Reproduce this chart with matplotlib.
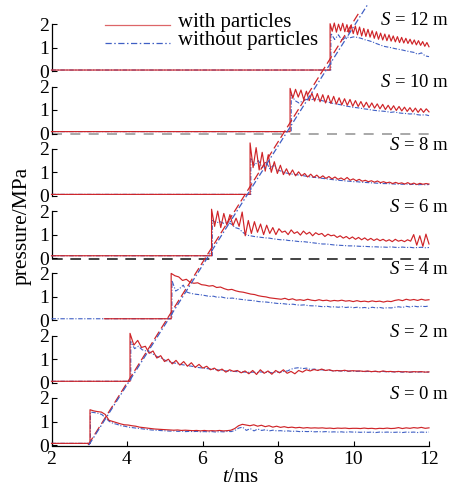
import numpy as np
import matplotlib
matplotlib.use("Agg")
import matplotlib.pyplot as plt
from matplotlib.lines import Line2D
from matplotlib.transforms import blended_transform_factory

plt.rcParams['font.family'] = ['Liberation Serif', 'DejaVu Serif']
plt.rcParams['mathtext.fontset'] = 'custom'
plt.rcParams['mathtext.rm'] = 'Liberation Serif'
plt.rcParams['mathtext.it'] = 'Liberation Serif:italic'

# ---------------- data ----------------
distances = ["12", "10", "8", "6", "4", "2", "0"]          # top -> bottom
jump_red = [9.38, 8.32, 7.26, 6.24, 5.17, 4.08, 3.02]
jump_blue = [9.40, 8.35, 7.28, 6.26, 5.19, 4.10, 3.03]
pre_start_red = [2.0, 2.0, 2.0, 2.0, 3.4, 2.0, 2.0]
pre_start_blue = [2.0, 2.0, 2.0, 2.0, 2.0, 2.0, 2.0]
pre_level = [0.05, 0.08, 0.06, 0.1, 0.07, 0.06, 0.07]

red12 = [2.02,1.70,2.05,1.66,2.00,1.72,2.04,1.68,1.98,1.62,1.95,1.60,1.92,1.55,1.88,1.50,
         1.82,1.48,1.78,1.45,1.72,1.40,1.68,1.36,1.62,1.33,1.58,1.30,1.55,1.28,1.50,1.25,
         1.47,1.22,1.44,1.20,1.40,1.18,1.36,1.15,1.33,1.12,1.30,1.10,1.26,1.06,1.22,1.04]
blue12 = [1.62,1.35,1.55,1.30,1.48,1.42,1.46,1.44,1.40,1.34,1.30,1.25,1.18,1.12,1.06,1.03,
          1.00,0.96,0.93,0.90,0.86,0.83,0.80,0.72,0.78,0.65,0.62]

red10 = [1.92,1.50,1.88,1.55,1.85,1.45,1.80,1.40,1.72,1.38,1.70,1.35,1.65,1.30,1.62,1.28,
         1.58,1.25,1.52,1.22,1.48,1.20,1.45,1.16,1.40,1.15,1.36,1.12,1.33,1.10,1.30,1.08,
         1.26,1.05,1.24,1.02,1.20,1.00,1.18,0.98,1.15,0.96,1.12,0.94,1.10,0.92,1.08,0.90,
         1.06,0.90,1.05,0.92]
blue10 = [1.66,1.40,1.30,1.38,1.45,1.42,1.48,1.44,1.40,1.36,1.32,1.28,1.25,1.22,1.18,1.15,
          1.12,1.10,1.08,1.05,1.03,1.00,0.98,0.96,0.95,0.93,0.90,0.92,0.88,0.86,0.85,0.83,
          0.84,0.80,0.78,0.80,0.76]

red8 = [2.25,1.20,2.05,1.10,1.85,1.05,1.75,1.00,
        1.45,0.95,1.30,0.90,1.15,0.88,1.10,0.85,1.02,0.85,
        0.95,0.80,0.92,0.78,0.88,0.76,0.85,0.74,0.82,0.72,
        0.80,0.70,0.76,0.68,0.78,0.66,0.72,0.64,0.70,0.62,
        0.66,0.60,0.64,0.58,0.63,0.56,0.60,0.55,0.58,0.52,
        0.57,0.52,0.55,0.50,0.56,0.49,0.54,0.48,0.53,0.49,0.52,0.50]
blue8 = [1.62,1.30,1.50,1.20,1.45,1.15,1.30,1.10,1.05,0.98,0.95,0.92,0.90,0.88,0.85,0.82,
         0.80,0.78,0.76,0.74,0.72,0.70,0.68,0.66,0.65,0.63,0.62,0.60,0.60,0.58,0.57,0.56,
         0.55,0.54,0.53,0.52,0.52,0.51,0.50,0.50,0.49,0.50,0.48,0.49,0.47,0.48,0.47,0.48]

red6 = [2.08,1.35,2.00,1.30,1.90,
        1.40,1.85,1.38,1.70,1.35,
        1.96,0.95,1.60,1.05,1.55,
        1.10,1.45,1.00,1.40,1.05,1.30,1.00,1.25,1.10,
        1.15,1.00,1.20,1.05,1.12,0.98,1.15,1.02,1.10,0.95,1.08,1.00,1.05,0.92,1.02,0.95,
        0.98,0.88,0.95,0.85,0.92,0.82,0.90,0.80,0.88,0.78,0.86,0.76,0.84,0.75,0.82,0.74,
        0.80,0.72,0.78,0.70,0.80,0.72,0.76,0.70,0.78,0.72,
        1.00,0.55,0.95,0.50,1.02,0.60]
blue6 = [1.60,1.50,1.55,1.48,1.52,1.45,1.30,1.25,1.10,0.98,0.95,0.92,0.90,0.88,0.86,0.85,
         0.82,0.80,0.78,0.78,0.75,0.74,0.72,0.70,0.70,0.68,0.66,0.64,0.62,0.60,0.60,0.58,
         0.56,0.55,0.54,0.53,0.52,0.52,0.51,0.50,0.50,0.49,0.48,0.48,0.47,0.47,0.46,0.48,
         0.46,0.45,0.47,0.45,0.46,0.44,0.45,0.46,0.44,0.45]

red4 = [2.00,1.90,1.85,1.70,1.75,1.62,1.58,1.60,1.52,
        1.50,1.46,1.48,1.40,1.42,1.35,1.30,1.32,1.26,1.22,
        1.20,1.16,1.12,1.10,1.05,1.02,1.00,0.96,0.94,0.92,
        0.90,0.94,0.88,0.92,0.86,0.88,0.85,0.90,0.86,0.84,
        0.88,0.84,0.86,0.82,0.85,0.83,0.86,0.82,0.84,0.80,
        0.84,0.80,0.82,0.79,0.83,0.80,0.82,0.78,0.82,0.80,
        0.85,0.88,0.84,0.90,0.86,0.89,0.85,0.90,0.86,0.88]
blue4 = [1.70,1.25,1.35,1.50,1.20,1.15,1.12,1.10,1.08,
         1.05,1.02,1.03,0.98,1.00,0.96,0.94,0.95,0.92,0.90,
         0.88,0.86,0.85,0.83,0.80,0.79,0.78,0.76,0.74,0.72,
         0.72,0.70,0.68,0.69,0.66,0.65,0.66,0.63,0.62,0.62,
         0.60,0.58,0.60,0.57,0.58,0.56,0.58,0.55,0.57,0.54,
         0.56,0.53,0.55,0.52,0.56,0.53,0.55,0.52,0.54,0.53,
         0.56,0.58,0.55,0.60,0.57,0.61,0.58,0.60,0.59,0.61]

red2 = [2.10,1.60,1.80,1.50,1.55,1.25,1.35,1.05,1.15,0.90,
        1.00,0.80,0.95,0.75,0.90,0.70,0.85,0.65,0.78,0.62,
        0.70,0.55,0.62,0.50,0.58,0.45,0.55,0.48,0.52,0.42,
        0.50,0.38,0.52,0.35,0.55,0.40,0.50,0.36,0.52,0.42,
        0.55,0.40,0.48,0.38,0.52,0.45,0.55,0.50,0.56,0.52,
        0.58,0.52,0.55,0.50,0.52,0.50,0.53,0.49,0.51,0.50,
        0.50,0.48,0.50,0.47,0.49,0.46,0.50,0.47,0.48,0.46,
        0.48,0.46,0.47,0.45,0.47,0.46,0.47,0.45,0.46]
blue2 = [1.75,1.45,1.55,1.40,1.35,1.30,1.20,1.10,1.05,0.95,
         0.90,0.85,0.82,0.78,0.75,0.72,0.70,0.66,0.64,0.62,
         0.60,0.58,0.56,0.54,0.52,0.50,0.49,0.48,0.47,0.46,
         0.45,0.44,0.45,0.43,0.46,0.44,0.45,0.42,0.46,0.44,
         0.48,0.50,0.58,0.62,0.64,0.60,0.62,0.56,0.58,0.54,
         0.55,0.52,0.53,0.50,0.51,0.50,0.50,0.49,0.50,0.48,
         0.49,0.47,0.48,0.47,0.48,0.46,0.48,0.46,0.47,0.46,
         0.47,0.45,0.46,0.45,0.46,0.45,0.46,0.45,0.45]

red0 = [1.50,1.45,1.42,1.40,1.30,1.05,1.00,0.95,0.90,0.86,
        0.85,0.82,0.80,0.76,0.74,0.72,0.70,0.68,0.67,0.66,
        0.65,0.64,0.63,0.64,0.62,0.63,0.62,0.61,0.62,0.60,
        0.62,0.60,0.61,0.60,0.62,0.60,0.61,0.63,0.70,0.82,
        0.88,0.85,0.82,0.86,0.80,0.84,0.78,0.82,0.76,0.80,
        0.75,0.78,0.74,0.76,0.73,0.75,0.72,0.74,0.72,0.73,
        0.72,0.73,0.71,0.72,0.70,0.72,0.71,0.72,0.70,0.71,
        0.71,0.70,0.72,0.70,0.71,0.69,0.71,0.70,0.72,0.70,
        0.71,0.74,0.70,0.73,0.71,0.74,0.72,0.75,0.71,0.73]
blue0 = [1.40,1.38,1.35,1.30,1.15,1.00,0.92,0.88,0.82,0.80,
         0.76,0.74,0.72,0.70,0.68,0.66,0.64,0.63,0.62,0.61,
         0.60,0.59,0.60,0.58,0.59,0.57,0.58,0.57,0.58,0.56,
         0.57,0.56,0.57,0.55,0.57,0.56,0.58,0.57,0.62,0.72,
         0.76,0.62,0.70,0.60,0.68,0.62,0.65,0.60,0.63,0.60,
         0.61,0.59,0.60,0.58,0.59,0.57,0.58,0.57,0.58,0.56,
         0.57,0.56,0.57,0.55,0.56,0.55,0.56,0.54,0.56,0.55,
         0.55,0.54,0.55,0.54,0.55,0.53,0.55,0.54,0.55,0.54,
         0.54,0.55,0.53,0.55,0.54,0.55,0.53,0.55,0.54,0.55]

red_series = [red12, red10, red8, red6, red4, red2, red0]
blue_series = [blue12, blue10, blue8, blue6, blue4, blue2, blue0]

# diagonal arrival lines: start at bottom panel zero, end point in top panel
diag_red_start = (2.97, 0.0)
diag_red_end = (10.15, 2.5)
diag_blue_start = (2.99, 0.0)
diag_blue_end = (10.38, 2.85)

x_ticks = [2, 4, 6, 8, 10, 12]
y_ticks = [0, 1, 2]

RED = '#cf2428'
BLUE = '#3f5fc4'

# ---------------- figure ----------------
W, H = 459, 488
fig = plt.figure(figsize=(W / 100, H / 100), dpi=100)

left = 51.5 / W
width = (429 - 51.5) / W
ylo, yhi = -0.06, 2.02
px_per_unit = 23.5
ax_h = (yhi - ylo) * px_per_unit / H
pitch = 62.3 / H
bottom0 = 1 - (445 + (-ylo) * px_per_unit) / H

axes = []
n = len(distances)
for i in range(n):
    k = n - 1 - i  # 0 = bottom
    ax = fig.add_axes([left, bottom0 + k * pitch, width, ax_h])
    ax.patch.set_alpha(0)
    axes.append(ax)

for i, ax in enumerate(axes):
    ax.set_xlim(2, 12)
    ax.set_ylim(ylo, yhi)
    for s in ['top', 'right']:
        ax.spines[s].set_visible(False)
    ax.spines['left'].set_bounds(0, 2)
    ax.spines['left'].set_linewidth(0.9)
    ax.set_yticks(y_ticks)
    ax.tick_params(axis='y', direction='in', length=3.5, width=0.8, labelsize=14, pad=2)
    if i < n - 1:
        ax.spines['bottom'].set_visible(False)
        ax.tick_params(axis='x', bottom=False, labelbottom=False)
    else:
        ax.spines['bottom'].set_linewidth(0.9)
        ax.set_xticks(x_ticks)
        ax.tick_params(axis='x', direction='in', length=3.5, width=0.8, labelsize=14, pad=3)

    # dashed reference lines
    if distances[i] == "10":
        ax.axhline(-0.03, color='#9a9a9a', lw=1.2, dashes=(6, 5), zorder=1, clip_on=False)
    if distances[i] == "6":
        ax.axhline(-0.03, color='#111111', lw=1.1, dashes=(7, 5), zorder=1, clip_on=False)

    # blue: without particles
    vb = blue_series[i]
    tb = np.concatenate([[pre_start_blue[i], jump_blue[i]],
                         np.linspace(jump_blue[i], 12, len(vb))])
    pb = np.concatenate([[pre_level[i], pre_level[i]], vb])
    ax.plot(tb, pb, color=BLUE, lw=0.8, dashes=(4, 1.5, 1, 1.5), clip_on=False, zorder=3)

    # red: with particles
    vr = red_series[i]
    tr = np.concatenate([[pre_start_red[i], jump_red[i]],
                         np.linspace(jump_red[i], 12, len(vr))])
    pr = np.concatenate([[pre_level[i], pre_level[i]], vr])
    ax.plot(tr, pr, color=RED, lw=0.85, clip_on=False, zorder=4)

    # S label
    tr_blend = blended_transform_factory(fig.transFigure, ax.transData)
    ax.text(449 / W, 2.15, f"$S$ = {distances[i]} m", transform=tr_blend,
            ha='right', va='center', fontsize=13.5)

# diagonal lines across panels
def to_fig(ax, pt):
    disp = ax.transData.transform(pt)
    return fig.transFigure.inverted().transform(disp)

ax_top, ax_bot = axes[0], axes[-1]
for start, end, col, ls in [(diag_red_start, diag_red_end, RED, (7, 3)),
                            (diag_blue_start, diag_blue_end, BLUE, (5, 2, 1.2, 2))]:
    a = to_fig(ax_bot, start)
    b = to_fig(ax_top, end)
    fig.add_artist(Line2D([a[0], b[0]], [a[1], b[1]], transform=fig.transFigure,
                          color=col, lw=0.9, dashes=ls, zorder=5))

# legend (manual)
fig.add_artist(Line2D([105 / W, 170 / W], [1 - 25 / H, 1 - 25 / H], transform=fig.transFigure,
                      color=RED, lw=0.9, alpha=0.7))
fig.add_artist(Line2D([105 / W, 170 / W], [1 - 43 / H, 1 - 43 / H], transform=fig.transFigure,
                      color=BLUE, lw=0.9, dashes=(5, 2, 1.2, 2)))
fig.text(178 / W, 1 - 23 / H, "with particles", ha='left', va='center', fontsize=15)
fig.text(178 / W, 1 - 41 / H, "without particles", ha='left', va='center', fontsize=15)

# axis labels
fig.text(22 / W, 1 - 226 / H, "pressure/MPa", rotation=90, ha='center', va='center', fontsize=15.5)
fig.text(241 / W, 1 - 478 / H, "$t$/ms", ha='center', va='center', fontsize=15)

fig.savefig("out.png", dpi=100)
